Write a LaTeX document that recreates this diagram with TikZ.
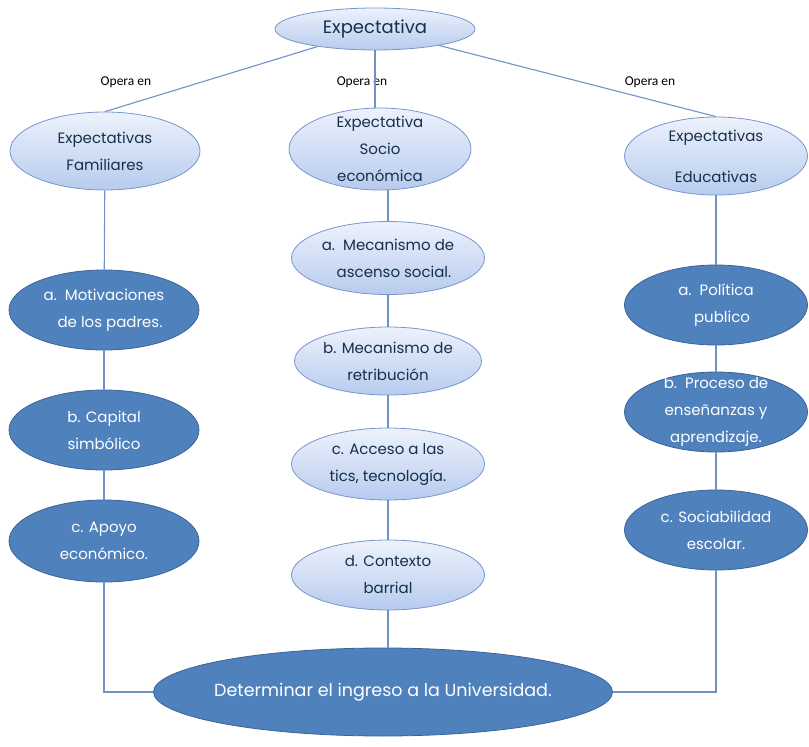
\documentclass[tikz,border=0pt]{standalone}
\usepackage{fontspec}
\setmainfont{Poppins}
\newfontfamily\operafont{Carlito}
\usepackage{xcolor}
\usepackage{tikz}
\usetikzlibrary{shapes.geometric}
\definecolor{lineblue}{HTML}{6F93C9}
\definecolor{deepfill}{HTML}{4F81BD}
\definecolor{deepedge}{HTML}{3A6499}
\definecolor{softtop}{HTML}{EDF2FC}
\definecolor{softbot}{HTML}{B7CBEE}
\definecolor{softedge}{HTML}{7895CC}
\definecolor{ink}{HTML}{16304A}
\tikzset{
  link/.style={draw=lineblue, line width=1.1pt},
  soft/.style={ellipse, draw=softedge, line width=0.8pt, top color=softtop, bottom color=softbot,
    text=ink, inner xsep=-8pt, inner ysep=0pt, align=center, font=\fontsize{15}{27}\selectfont},
  deep/.style={ellipse, draw=deepedge, line width=0.8pt, fill=deepfill,
    text=white, inner xsep=-8pt, inner ysep=0pt, align=center, font=\fontsize{15}{27}\selectfont},
  opera/.style={text=black, font=\operafont\fontsize{13.5}{14}\selectfont, inner sep=1pt},
}
\begin{document}
\begin{tikzpicture}[x=1pt, y=-1pt]
  \useasboundingbox (0,0) rectangle (809,747);

  % top level
  \node[soft, minimum width=200, minimum height=42, font=\fontsize{18}{20}\selectfont] (expect) at (375,29) {Expectativa};
  \node[soft, minimum width=190, minimum height=78] (family) at (105,151) {Expectativas\\Familiares};
  \node[soft, minimum width=182, minimum height=82, inner ysep=-10pt] (socio) at (380,149) {Expectativa\\Socio\\económica};
  \node[soft, minimum width=183, minimum height=78] (school) at (716,156) {Expectativas\\[14pt]Educativas};

  \node[opera] (opl) at (126,82) {Opera en};
  \node[opera] (opm) at (362,82) {Opera en};
  \node[opera] (opr) at (650,82) {Opera en};

  \draw[link] (expect) -- (family.north);
  \draw[link] (expect.south) -- (expect.south |- socio.north);
  \draw[link] (expect) -- (school.north);

  % left column
  \node[deep, minimum width=190, minimum height=80] (fam1) at (104,310) {a.\ \ Motivaciones\\\ \ \ de los padres.};
  \node[deep, minimum width=190, minimum height=80] (fam2) at (104,430) {b. Capital\\simbólico};
  \node[deep, minimum width=190, minimum height=82] (fam3) at (104,541) {c. Apoyo\\económico.};

  % middle column
  \node[soft, minimum width=193, minimum height=73] (soc1) at (388,258) {a.\ \ Mecanismo de\\\ \ \ ascenso social.};
  \node[soft, minimum width=187, minimum height=68] (soc2) at (388,361) {b. Mecanismo de\\retribución};
  \node[soft, minimum width=193, minimum height=72] (soc3) at (388,464) {c. Acceso a las\\tics, tecnología.};
  \node[soft, minimum width=193, minimum height=70] (soc4) at (388,575) {d. Contexto\\barrial};

  % right column
  \node[deep, minimum width=183, minimum height=80] (sch1) at (716,305) {a.\ \ Política\\\ \ \ publico};
  \node[deep, minimum width=183, minimum height=80, inner ysep=-10pt] (sch2) at (716,412) {b.\ \ Proceso de\\enseñanzas y\\aprendizaje.};
  \node[deep, minimum width=183, minimum height=80] (sch3) at (716,530) {c. Sociabilidad\\escolar.};

  % goal
  \node[deep, minimum width=459, minimum height=88, inner xsep=-40pt, font=\fontsize{17.5}{20}\selectfont] (goal) at (383,692) {Determinar el ingreso a la Universidad.};

  \draw[link] (family) -- (fam1);
  \draw[link] (fam1) -- (fam2);
  \draw[link] (fam2) -- (fam3);
  \draw[link] (fam3) |- (goal);

  \draw[link] (socio.south -| soc1) -- (soc1);
  \draw[link] (soc1) -- (soc2);
  \draw[link] (soc2) -- (soc3);
  \draw[link] (soc3) -- (soc4);
  \draw[link] (soc4) -- (soc4 |- goal.north);

  \draw[link] (school) -- (sch1);
  \draw[link] (sch1) -- (sch2);
  \draw[link] (sch2) -- (sch3);
  \draw[link] (sch3) |- (goal);
\end{tikzpicture}
\end{document}
